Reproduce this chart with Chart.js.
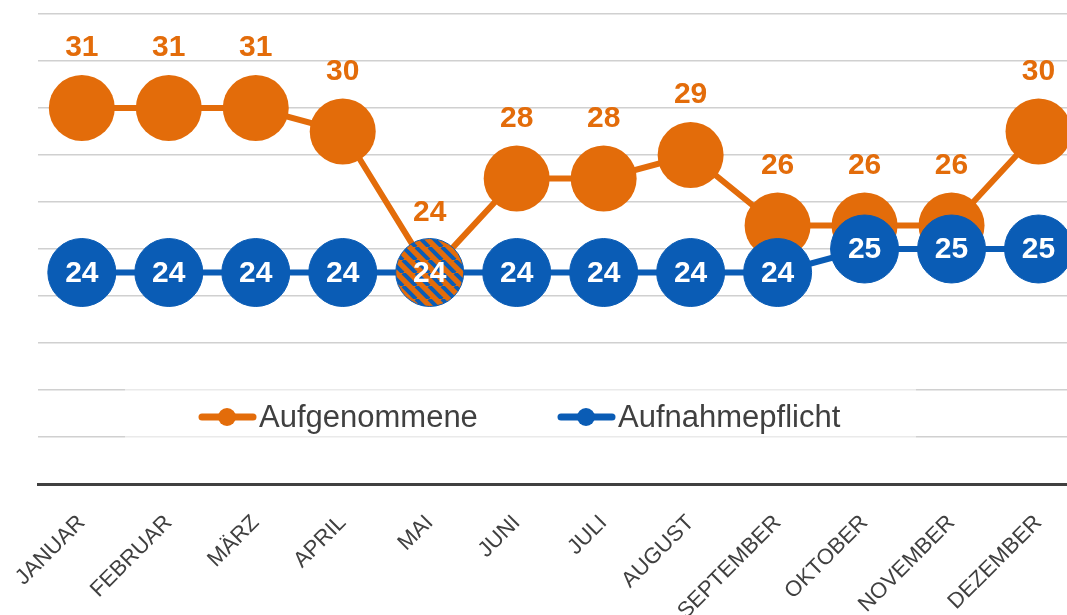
<!DOCTYPE html>
<html lang="de">
<head>
  <meta charset="UTF-8" />
  <title>Aufnahmen 2023</title>
  <script src="https://cdn.jsdelivr.net/npm/chart.js"></script>
  <style>
    * { margin: 0; padding: 0; box-sizing: border-box; }
    html, body { width: 1067px; height: 615px; overflow: hidden; background: #fff; }
    /* the last month is cut off at the right edge, so the canvas is a bit wider than the window */
    #chart { display: block; }
  </style>
</head>
<body>
  <canvas id="chart" width="1082" height="615"></canvas>

  <script>
    // ---- data ----
    const months = ['JANUAR', 'FEBRUAR', 'MÄRZ', 'APRIL', 'MAI', 'JUNI', 'JULI',
                    'AUGUST', 'SEPTEMBER', 'OKTOBER', 'NOVEMBER', 'DEZEMBER'];
    const aufgenommene    = [31, 31, 31, 30, 24, 28, 28, 29, 26, 26, 26, 30];
    const aufnahmepflicht = [24, 24, 24, 24, 24, 24, 24, 24, 24, 25, 25, 25];
    const yMin = 15, yMax = 35, yStep = 2;

    const ORANGE = '#E36C0A';
    const BLUE = '#0A5CB5';
    const GREY = '#404040';
    const FONT = '"Liberation Sans", Arial, sans-serif';

    // striped fill for the month where both series meet
    function stripes() {
      const s = 13;
      const c = document.createElement('canvas');
      c.width = s; c.height = s;
      const g = c.getContext('2d');
      g.fillStyle = ORANGE;
      g.fillRect(0, 0, s, s);
      g.strokeStyle = BLUE;
      g.lineWidth = 4;
      for (let k = -1; k <= 1; k++) {
        g.beginPath();
        g.moveTo(k * s, 0);
        g.lineTo(k * s + s, s);
        g.stroke();
      }
      return g.createPattern(c, 'repeat');
    }
    const pattern = stripes();
    const bluePointBg = aufnahmepflicht.map((v, i) => aufgenommene[i] === v ? pattern : BLUE);

    // value labels: orange above the point, blue inside it
    const valueLabels = {
      id: 'valueLabels',
      afterDatasetsDraw(chart) {
        const ctx = chart.ctx;
        ctx.save();
        ctx.font = 'bold 30px ' + FONT;
        ctx.textAlign = 'center';
        ctx.textBaseline = 'middle';
        chart.data.datasets.forEach((ds, di) => {
          chart.getDatasetMeta(di).data.forEach((pt, i) => {
            if (di === 0) {
              ctx.fillStyle = ORANGE;
              ctx.fillText(ds.data[i], pt.x, pt.y - 60);
            } else {
              ctx.fillStyle = '#fff';
              ctx.fillText(ds.data[i], pt.x, pt.y + 1);
            }
          });
        });
        ctx.restore();
      }
    };

    // legend sits inside the plot, on a pale box over the grid
    const innerLegend = {
      id: 'innerLegend',
      beforeDatasetsDraw(chart) {
        const ctx = chart.ctx;
        ctx.save();
        ctx.fillStyle = 'rgba(255,255,255,0.55)';
        ctx.fillRect(125, 386, 791, 56);
        const items = [{ x: 199 }, { x: 558 }];
        const y = 417;
        ctx.font = '31px ' + FONT;
        ctx.textBaseline = 'middle';
        chart.data.datasets.forEach((ds, i) => {
          const x = items[i].x;
          ctx.strokeStyle = ds.borderColor;
          ctx.lineWidth = 7;
          ctx.lineCap = 'round';
          ctx.beginPath();
          ctx.moveTo(x + 3, y);
          ctx.lineTo(x + 54, y);
          ctx.stroke();
          ctx.fillStyle = ds.borderColor;
          ctx.beginPath();
          ctx.arc(x + 28, y, 9, 0, Math.PI * 2);
          ctx.fill();
          ctx.fillStyle = GREY;
          ctx.fillText(ds.label, x + 60, y + 1);
        });
        ctx.restore();
      }
    };

    new Chart(document.getElementById('chart'), {
      type: 'line',
      data: {
        labels: months,
        datasets: [
          {
            label: 'Aufgenommene',
            data: aufgenommene,
            borderColor: ORANGE,
            backgroundColor: ORANGE,
            borderWidth: 6,
            pointRadius: 33,
            pointBackgroundColor: ORANGE,
            pointBorderWidth: 0,
            order: 1,
            clip: false
          },
          {
            label: 'Aufnahmepflicht',
            data: aufnahmepflicht,
            borderColor: BLUE,
            backgroundColor: BLUE,
            borderWidth: 6,
            pointRadius: 34,
            pointBackgroundColor: bluePointBg,
            pointBorderColor: BLUE,
            pointBorderWidth: 1,
            order: 0,
            clip: false
          }
        ]
      },
      options: {
        responsive: false,
        animation: false,
        events: [],
        layout: { autoPadding: false, padding: { left: 38, top: 14, right: 0, bottom: 0 } },
        plugins: {
          legend: { display: false },
          tooltip: { enabled: false }
        },
        scales: {
          x: {
            offset: true,
            grid: { display: false },
            border: { display: true, color: GREY, width: 3 },
            ticks: {
              autoSkip: false,
              maxRotation: 45,
              minRotation: 45,
              padding: 18,
              color: GREY,
              font: { family: FONT, size: 22 }
            },
            afterFit(scale) { scale.height = 131; }
          },
          y: {
            min: yMin,
            max: yMax,
            ticks: { display: false, stepSize: yStep },
            grid: { color: '#d0d0d0', lineWidth: 1.5, drawTicks: false },
            border: { display: false },
            afterFit(scale) { scale.width = 0; }
          }
        }
      },
      plugins: [valueLabels, innerLegend]
    });
  </script>
</body>
</html>
